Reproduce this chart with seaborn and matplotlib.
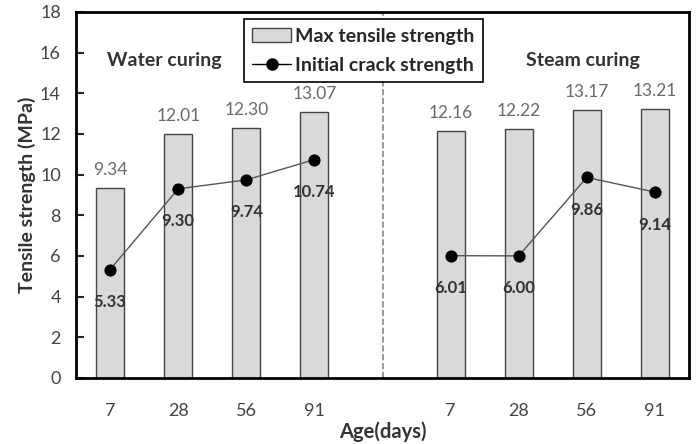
import pandas as pd
import numpy as np
import matplotlib.pyplot as plt
import seaborn as sns
from matplotlib.patches import Patch
from matplotlib.lines import Line2D

ages = ['7', '28', '56', '91']
groups = ['Water curing', 'Steam curing']
max_water = [9.34, 12.01, 12.30, 13.07]
max_steam = [12.16, 12.22, 13.17, 13.21]
crack_water = [5.33, 9.30, 9.74, 10.74]
crack_steam = [6.01, 6.00, 9.86, 9.14]

sns.set_style('white')
plt.rcParams['font.family'] = ['Lato', 'DejaVu Sans']

pos = [0, 1, 2, 3, 5, 6, 7, 8]
df = pd.DataFrame({
    'pos': pos,
    'age': ages * 2,
    'group': [groups[0]] * 4 + [groups[1]] * 4,
    'max': max_water + max_steam,
    'crack': crack_water + crack_steam,
})

fig = plt.figure(figsize=(6.98, 4.44), dpi=100)
ax = fig.add_axes([0.109, 0.149, 0.878, 0.824])

ax.axvline(4, color='#888888', linestyle='--', linewidth=1.2, zorder=0)

sns.barplot(data=df, x='pos', y='max', native_scale=True, width=0.41,
            color='#d9d9d9', edgecolor='#444444', linewidth=1.0,
            saturation=1, ax=ax, zorder=2)

sns.lineplot(data=df, x='pos', y='crack', units='group', estimator=None,
             color='#555555', linewidth=1.0, marker='o', markersize=8,
             markerfacecolor='black', markeredgecolor='black', ax=ax, zorder=3)

for p, m, c in zip(df['pos'], df['max'], df['crack']):
    ax.text(p, m + 0.5, f'{m:.2f}', ha='center', va='bottom',
            fontsize=12.5, color='#6a6a6a')
    ax.text(p, c - 1.6, f'{c:.2f}', ha='center', va='center',
            fontsize=12, color='#333333', fontweight='bold')

ax.text(0.8, 15.6, 'Water curing', ha='center', va='center',
        fontsize=14, fontweight='bold', color='#333333')
ax.text(6.95, 15.6, 'Steam curing', ha='center', va='center',
        fontsize=14, fontweight='bold', color='#333333')

ax.set_xlim(-0.5, 8.5)
ax.set_ylim(0, 18)
ax.set_xticks(pos)
ax.set_xticklabels(ages * 2, fontsize=13, color='#444444')
ax.set_yticks(range(0, 19, 2))
ax.tick_params(axis='y', direction='in', length=6, width=1.5,
               labelsize=13, labelcolor='#444444', pad=11, left=True)
ax.tick_params(axis='x', length=0, pad=18)
ax.set_xlabel('Age(days)', fontsize=14.5, fontweight='bold', color='#333333', labelpad=2)
ax.set_ylabel('Tensile strength (MPa)', fontsize=14, fontweight='bold', color='#333333', labelpad=3)
for s in ax.spines.values():
    s.set_linewidth(2)
    s.set_color('black')

handles = [
    Patch(facecolor='#d9d9d9', edgecolor='#444444', linewidth=1),
    Line2D([], [], color='black', linewidth=1, marker='o', markersize=8),
]
leg = ax.legend(handles, ['Max tensile strength', 'Initial crack strength'],
                loc='upper center', bbox_to_anchor=(0.469, 0.98), borderaxespad=0,
                frameon=True, fancybox=False, framealpha=1, edgecolor='black',
                prop={'weight': 'bold', 'size': 14}, handlelength=2.0,
                handletextpad=0.2, borderpad=0.45, labelspacing=0.6)
leg.get_frame().set_linewidth(1.2)
leg.set_zorder(5)

fig.savefig('out.png', dpi=100)
